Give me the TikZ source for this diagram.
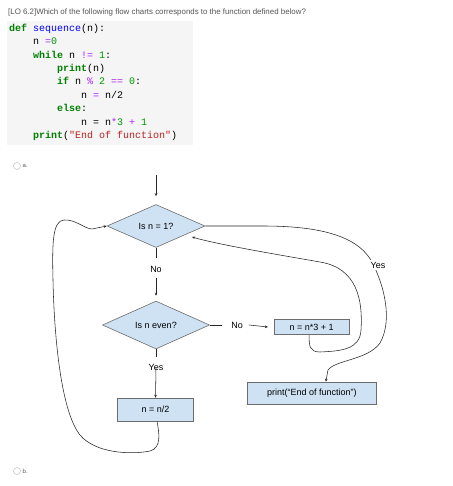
\documentclass[tikz,border=0pt]{standalone}
\usepackage{fontspec}
\setmainfont{Liberation Sans}
\setmonofont{Liberation Mono}
\usetikzlibrary{shapes.geometric,arrows.meta}
\definecolor{kw}{HTML}{008000}
\definecolor{fn}{HTML}{0000FF}
\definecolor{op}{HTML}{AA22FF}
\definecolor{num}{HTML}{009900}
\definecolor{str}{HTML}{BA2121}
\definecolor{codebg}{HTML}{F5F5F5}
\definecolor{boxfill}{HTML}{CFE2F3}
\definecolor{boxline}{HTML}{6D6D6D}
\definecolor{qgray}{HTML}{555555}
\newcommand{\K}[1]{\textcolor{kw}{\textbf{#1}}}
\newcommand{\Op}[1]{\textcolor{op}{#1}}
\newcommand{\Nm}[1]{\textcolor{num}{#1}}
\tikzset{
  codeline/.style={anchor=base west, inner sep=0pt, font=\ttfamily\fontsize{10}{12}\selectfont},
  dec/.style={shape=diamond, draw=boxline, fill=boxfill, line width=0.6pt, inner sep=0pt, font=\fontsize{9}{11}\selectfont},
  proc/.style={rectangle, draw=boxline, fill=boxfill, line width=0.6pt, inner sep=0pt, font=\fontsize{9}{11}\selectfont},
  lbl/.style={inner sep=1pt, font=\fontsize{9}{11}\selectfont},
  conn/.style={draw=black!85, line width=0.55pt},
  arr/.style={conn, -{Stealth[length=3pt,width=2.6pt]}},
  radio/.style={circle, draw=black!25, line width=0.5pt, minimum size=7pt, inner sep=0pt},
  opt/.style={anchor=west, inner sep=0pt, text=qgray, font=\fontsize{6}{7}\selectfont}
}
\begin{document}
\begin{tikzpicture}[x=1pt,y=-1pt]
\useasboundingbox[fill=white] (0,0) rectangle (452,486);
% question
\node[anchor=west, inner sep=0pt, text=qgray, font=\fontsize{7.9}{9}\selectfont] (q) at (8,12) {[LO 6.2]Which of the following flow charts corresponds to the function defined below?};
% code block
\fill[codebg] (7,21) rectangle (193,145);
\node[codeline] (c1) at (9,31.5) {\K{def} \textcolor{fn}{sequence}(n):};
\node[codeline] (c2) at (33,45) {n \Op{=}\Nm{0}};
\node[codeline] (c3) at (33,58.5) {\K{while} n \Op{!=} \Nm{1}:};
\node[codeline] (c4) at (57,71.5) {\K{print}(n)};
\node[codeline] (c5) at (57,84.5) {\K{if} n \Op{\%} \Nm{2} \Op{==} \Nm{0}:};
\node[codeline] (c6) at (81,98.5) {n \Op{=} n/2};
\node[codeline] (c7) at (57,111.5) {\K{else}:};
\node[codeline] (c8) at (81,125.5) {n = n\Op{*}\Nm{3} \Op{+} \Nm{1}};
\node[codeline] (c9) at (33,138.5) {\K{print}(\textcolor{str}{"End of function"})};
% options
\node[radio] (ra) at (17,166) {};
\node[opt] (ta) at (22.5,166) {a.};
\node[radio] (rb) at (17,471) {};
\node[opt] (tb) at (22.5,471) {b.};
% flowchart nodes
\coordinate (start) at (156,175);
\node[dec, minimum width=98pt, minimum height=43pt] (d1) at (156,226) {Is n = 1?};
\node[lbl] (no1) at (156,269) {No};
\node[dec, minimum width=107pt, minimum height=44pt] (d2) at (156,325) {Is n even?};
\node[lbl] (no2) at (237,325) {No};
\node[proc, minimum width=75pt, minimum height=15pt] (tri) at (311.7,327) {n = n*3 + 1};
\node[lbl] (yes2) at (156,367.5) {Yes};
\node[proc, minimum width=76pt, minimum height=23pt] (half) at (155.5,409.5) {n = n/2};
\node[proc, minimum width=129pt, minimum height=22pt] (fin) at (311.8,393) {print(“End of function”)};
\coordinate (d1in) at (192,237);
% connectors
\draw[arr, shorten >=8pt] (start) -- (d1.north);
\draw[conn] (d1.south) -- ([yshift=-10]d1.south);
\draw[arr] (no1.south) ++(0,5) -- ([yshift=5]d2.north);
\draw[conn] (d2.east) -- ++(12,0);
\draw[arr] ([xshift=5]no2.east) -- ([xshift=-6]tri.west);
\draw[conn] (d2.south) -- ++(0,8);
\draw[arr] ([yshift=4]yes2.south) -- (half.north);
% loop back from n/2
\draw[arr] ([xshift=1.5]half.south) .. controls (159,432) and (162,448) .. (150,451)
  .. controls (130,455) and (95,453) .. (80,435)
  .. controls (60,410) and (54,330) .. (53,280)
  .. controls (52,240) and (53,221) .. (64,220)
  .. controls (75,219) and (85,229) .. (92,229) -- (d1.west);
% loop back from n*3+1
\draw[arr] ([xshift=-2.5]tri.south) .. controls (309,345) and (309,352) .. (320,352)
  .. controls (340,351) and (360,350) .. (361,330)
  .. controls (363,300) and (357,268) .. (320,262)
  .. controls (280,255) and (220,245) .. (d1in);
% yes to end
\draw[arr] (d1.east) -- (263,226) .. controls (330,226) and (360,240) .. (372,262)
  .. controls (384,285) and (393,320) .. (380,343)
  .. controls (368,360) and (335,360) .. (328,370) -- ([xshift=14]fin.north);
\node[lbl, fill=white, inner sep=2pt] (yes1) at (378,265) {Yes};
\end{tikzpicture}
\end{document}
